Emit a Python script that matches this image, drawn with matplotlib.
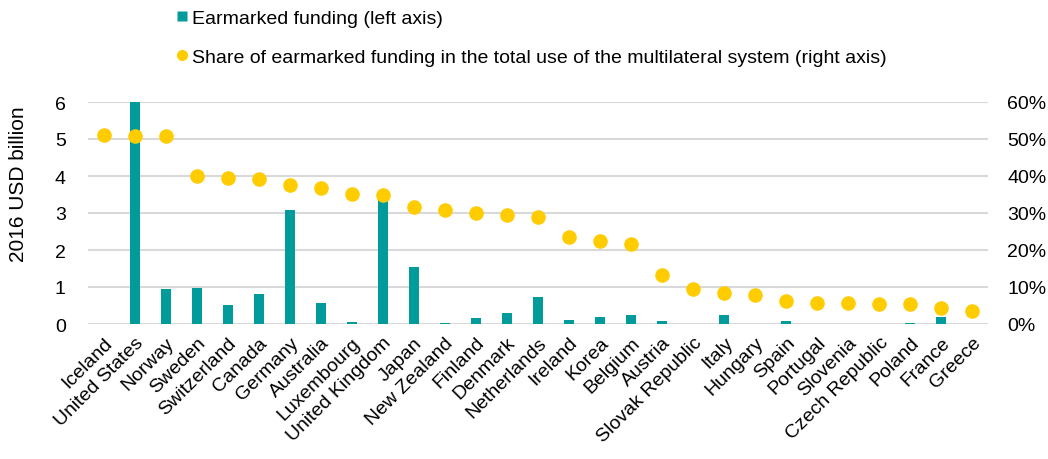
import matplotlib
matplotlib.use("Agg")
import matplotlib.pyplot as plt
from matplotlib.lines import Line2D
from matplotlib.ticker import FuncFormatter

plt.rcParams['font.family'] = ['Liberation Sans', 'DejaVu Sans']

countries = ["Iceland", "United States", "Norway", "Sweden", "Switzerland", "Canada",
             "Germany", "Australia", "Luxembourg", "United Kingdom", "Japan", "New Zealand",
             "Finland", "Denmark", "Netherlands", "Ireland", "Korea", "Belgium", "Austria",
             "Slovak Republic", "Italy", "Hungary", "Spain", "Portugal", "Slovenia",
             "Czech Republic", "Poland", "France", "Greece"]
earmarked_bn = [0.0, 6.0, 0.95, 0.97, 0.51, 0.81, 3.07, 0.57, 0.05, 3.4, 1.55, 0.03,
                0.16, 0.29, 0.72, 0.10, 0.19, 0.23, 0.08, 0.0, 0.24, 0.0, 0.09, 0.0,
                0.0, 0.0, 0.02, 0.18, 0.0]
share_pct = [51.0, 50.8, 50.7, 40.1, 39.5, 39.2, 37.6, 36.7, 35.2, 34.8, 31.6, 30.9,
             30.1, 29.4, 28.8, 23.6, 22.4, 21.7, 13.2, 9.4, 8.5, 7.8, 6.2, 5.6,
             5.6, 5.3, 5.3, 4.3, 3.4]
left_ticks = [0, 1, 2, 3, 4, 5, 6]
right_ticks = [0, 10, 20, 30, 40, 50, 60]

teal = "#009B9A"
yellow = "#FFCC00"
grid_c = "#D9D9D9"

fig = plt.figure(figsize=(10.48, 4.6), dpi=100)
ax = fig.add_axes([88/1048, 1 - 325/460, 900/1048, 222/460])
ax2 = ax.twinx()

x = list(range(len(countries)))
ax.bar(x, earmarked_bn, width=0.32, color=teal, zorder=2)
ax.set_ylim(0, 6)
ax.set_xlim(-0.5, len(countries) - 0.5)
ax.set_yticks(left_ticks)
for t in left_ticks:
    ax.axhline(t, color=grid_c, lw=1.5, zorder=0)

ax2.scatter(x, share_pct, s=110, color=yellow, zorder=3, linewidths=0)
ax2.set_ylim(0, 60)
ax2.set_yticks(right_ticks)
ax2.yaxis.set_major_formatter(FuncFormatter(lambda v, p: f"{int(v)}%"))

ax.set_xticks(x)
ax.set_xticklabels(countries, rotation=45, ha="right", rotation_mode="anchor", fontsize=14)

for a in (ax, ax2):
    for s in a.spines.values():
        s.set_visible(False)
    a.tick_params(length=0, labelsize=14)
ax.tick_params(axis='y', pad=16)
ax2.tick_params(axis='y', pad=14)
ax.tick_params(axis='x', pad=7)

ax.set_ylabel("2016 USD billion", fontsize=15)
ax.yaxis.set_label_coords(-0.067, 0.635)

handles = [
    Line2D([], [], marker='s', color='none', markerfacecolor=teal, markeredgecolor='none', markersize=7),
    Line2D([], [], marker='o', color='none', markerfacecolor=yellow, markeredgecolor='none', markersize=8),
]
labels = ["Earmarked funding (left axis)",
          "Share of earmarked funding in the total use of the multilateral system (right axis)"]
fig.legend(handles, labels, loc="upper left", bbox_to_anchor=(170/1048, 0.99), frameon=False,
           fontsize=14, handlelength=0.6, handletextpad=0.25, labelspacing=1.1,
           borderaxespad=0.0, borderpad=0.3)

fig.savefig("out.png", dpi=100)
